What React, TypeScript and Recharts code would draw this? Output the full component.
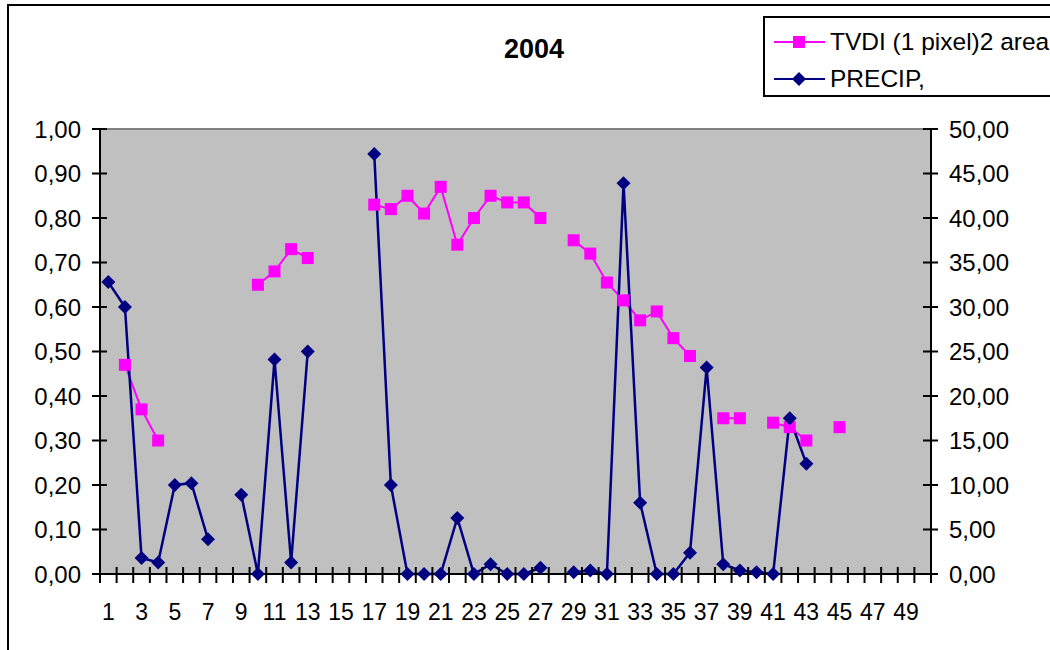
import React from "react";
import {
  LineChart,
  Line,
  XAxis,
  YAxis,
  CartesianGrid,
  ReferenceLine,
  Legend,
} from "recharts";

const days = [
  1, 2, 3, 4, 5, 6, 7, 8, 9, 10, 11, 12, 13, 14, 15, 16, 17, 18, 19, 20, 21, 22, 23, 24, 25,
  26, 27, 28, 29, 30, 31, 32, 33, 34, 35, 36, 37, 38, 39, 40, 41, 42, 43, 44, 45, 46, 47, 48, 49, 50,
];

const tvdi: (number | null)[] = [
  null, 0.47, 0.37, 0.3, null, null, null, null, null, 0.65,
  0.68, 0.73, 0.71, null, null, null, 0.83, 0.82, 0.85, 0.81,
  0.87, 0.74, 0.8, 0.85, 0.835, 0.835, 0.8, null, 0.75, 0.72,
  0.655, 0.615, 0.57, 0.59, 0.53, 0.49, null, 0.35, 0.35, null,
  0.34, 0.33, 0.3, null, 0.33, null, null, null, null, null,
];

const precip: (number | null)[] = [
  32.8, 30.0, 1.8, 1.3, 10.0, 10.2, 3.9, null, 8.9, 0,
  24.1, 1.3, 25.0, null, null, null, 47.2, 10.0, 0, 0,
  0, 6.3, 0, 1.1, 0, 0, 0.7, null, 0.2, 0.4,
  0, 43.9, 8.0, 0, 0, 2.4, 23.2, 1.1, 0.4, 0.2,
  0, 17.5, 12.4, null, null, null, null, null, null, null,
];

const xLabelTicks = [1, 3, 5, 7, 9, 11, 13, 15, 17, 19, 21, 23, 25, 27, 29, 31, 33, 35, 37, 39, 41, 43, 45, 47, 49];
const leftTicks = [0, 0.1, 0.2, 0.3, 0.4, 0.5, 0.6, 0.7, 0.8, 0.9, 1.0];
const rightTicks = [0, 5, 10, 15, 20, 25, 30, 35, 40, 45, 50];

const title = "2004";
const tvdiName = "TVDI (1 pixel)2 area";
const precipName = "PRECIP,";

const data = days.map((d, i) => ({ day: d, tvdi: tvdi[i], precip: precip[i] }));
const boundaryTicks = days.map((d) => d - 0.5).concat([days[days.length - 1] + 0.5]);
const xTicks = boundaryTicks.concat(xLabelTicks).sort((a, b) => a - b);

const FONT = '"Liberation Sans", Arial, sans-serif';
const TVDI_COLOR = "#FF00FF";
const PRECIP_COLOR = "#000080";

const fmt = (v: number) => v.toFixed(2).replace(".", ",");

const LeftTick = (props: any) => {
  const { x, y, payload } = props;
  return (
    <g>
      <line x1={x - 8} x2={x + 7} y1={y} y2={y} stroke="#000" strokeWidth={2} />
      <text x={x - 19} y={y} textAnchor="end" dominantBaseline="central" fontSize={24} fontFamily={FONT} fill="#000">
        {fmt(payload.value)}
      </text>
    </g>
  );
};

const RightTick = (props: any) => {
  const { x, y, payload } = props;
  return (
    <g>
      <line x1={x - 8} x2={x + 7} y1={y} y2={y} stroke="#000" strokeWidth={2} />
      <text x={x + 18} y={y} textAnchor="start" dominantBaseline="central" fontSize={24} fontFamily={FONT} fill="#000">
        {fmt(payload.value)}
      </text>
    </g>
  );
};

const BottomTick = (props: any) => {
  const { x, y, payload } = props;
  const v = payload.value;
  if (Number.isInteger(v)) {
    return (
      <text x={x} y={y + 38} textAnchor="middle" dominantBaseline="central" fontSize={23} fontFamily={FONT} fill="#000">
        {String(v)}
      </text>
    );
  }
  return <line x1={x} x2={x} y1={y - 7} y2={y + 9} stroke="#000" strokeWidth={2} />;
};

const SquareDot = (props: any) => {
  const { cx, cy, value, index } = props;
  if (value == null || cx == null || cy == null) return <g key={`s${index}`} />;
  return <rect key={`s${index}`} x={cx - 6} y={cy - 6} width={12} height={12} fill={TVDI_COLOR} />;
};

const DiamondDot = (props: any) => {
  const { cx, cy, value, index } = props;
  if (value == null || cx == null || cy == null) return <g key={`d${index}`} />;
  return (
    <polygon
      key={`d${index}`}
      points={`${cx},${cy - 7} ${cx + 7},${cy} ${cx},${cy + 7} ${cx - 7},${cy}`}
      fill={PRECIP_COLOR}
    />
  );
};

const LegendContent = () => {
  const items = [
    { name: tvdiName, color: TVDI_COLOR, shape: "square" },
    { name: precipName, color: PRECIP_COLOR, shape: "diamond" },
  ];
  return (
    <div
      style={{
        border: "2px solid #000",
        background: "#fff",
        width: 320,
        height: 81,
        boxSizing: "border-box",
        paddingTop: 5,
        fontFamily: FONT,
      }}
    >
      {items.map((it) => (
        <div key={it.name} style={{ display: "flex", alignItems: "center", height: 37 }}>
          <svg width={64} height={20} style={{ marginLeft: 7 }}>
            <line x1={2} x2={53} y1={10} y2={10} stroke={it.color} strokeWidth={2} />
            {it.shape === "square" ? (
              <rect x={21} y={4} width={12} height={12} fill={it.color} />
            ) : (
              <polygon points="27,3 34,10 27,17 20,10" fill={it.color} />
            )}
          </svg>
          <span style={{ fontSize: 24.5, color: "#000", whiteSpace: "nowrap", marginLeft: -6 }}>{it.name}</span>
        </div>
      ))}
    </div>
  );
};

export default function App() {
  return (
    <div
      style={{
        position: "absolute",
        left: 0,
        top: 0,
        width: 1050,
        height: 650,
        overflow: "hidden",
        background: "#fff",
      }}
    >
      <div
        style={{
          position: "absolute",
          left: 7,
          top: 4,
          width: 1100,
          height: 700,
          border: "2px solid #000",
        }}
      />
      <div
        style={{
          position: "absolute",
          left: 434,
          top: 36,
          width: 200,
          textAlign: "center",
          fontFamily: FONT,
          fontWeight: "bold",
          fontSize: 27,
          lineHeight: "27px",
        }}
      >
        {title}
      </div>
      <div style={{ position: "absolute", left: 0, top: 0 }}>
        <LineChart
          width={1050}
          height={650}
          data={data}
          margin={{ top: 129, right: 19, bottom: 36, left: 10 }}
        >
          <CartesianGrid fill="#C0C0C0" fillOpacity={1} horizontal={false} vertical={false} stroke="none" />
          <XAxis
            dataKey="day"
            type="number"
            domain={[0.5, 50.5]}
            ticks={xTicks}
            interval={0}
            height={40}
            tickSize={0}
            tickMargin={0}
            tick={<BottomTick />}
            axisLine={{ stroke: "#000", strokeWidth: 2 }}
            tickLine={false}
          />
          <YAxis
            yAxisId="left"
            orientation="left"
            domain={[0, 1]}
            ticks={leftTicks}
            interval={0}
            width={90}
            tickSize={0}
            tickMargin={0}
            tick={<LeftTick />}
            axisLine={{ stroke: "#000", strokeWidth: 2 }}
            tickLine={false}
          />
          <YAxis
            yAxisId="right"
            orientation="right"
            domain={[0, 50]}
            ticks={rightTicks}
            interval={0}
            width={100}
            tickSize={0}
            tickMargin={0}
            tick={<RightTick />}
            axisLine={{ stroke: "#000", strokeWidth: 2 }}
            tickLine={false}
          />
          <ReferenceLine yAxisId="left" y={1} stroke="#808080" strokeWidth={2} />
          <Legend
            layout="vertical"
            align="center"
            verticalAlign="middle"
            content={<LegendContent />}
            wrapperStyle={{ position: "absolute", left: 763, top: 16, width: 320, height: 81 }}
          />
          <Line
            yAxisId="left"
            dataKey="tvdi"
            name={tvdiName}
            stroke={TVDI_COLOR}
            strokeWidth={2}
            dot={<SquareDot />}
            activeDot={false}
            isAnimationActive={false}
          />
          <Line
            yAxisId="right"
            dataKey="precip"
            name={precipName}
            stroke={PRECIP_COLOR}
            strokeWidth={2.5}
            dot={<DiamondDot />}
            activeDot={false}
            isAnimationActive={false}
          />
        </LineChart>
      </div>
    </div>
  );
}
